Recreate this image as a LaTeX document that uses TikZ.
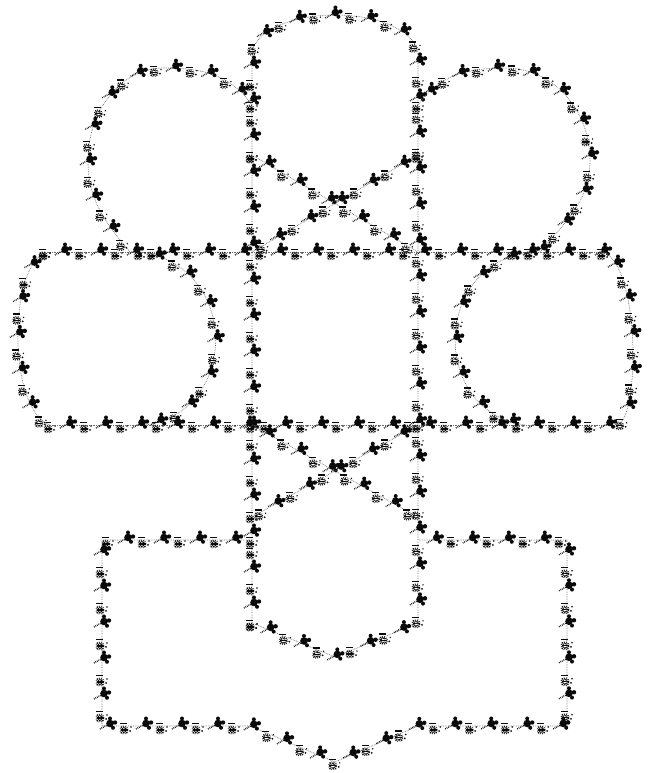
\documentclass[tikz,border=0pt]{standalone}
\usepackage{tikz}
\usetikzlibrary{decorations.markings}
\definecolor{knotink}{RGB}{10,10,10}
\tikzset{
  kring/.pic={\pgftransformresetnontranslations
    \draw[knotink, line width=2.8pt] (-2pt,-4pt) circle (3.2pt);
    \fill[knotink] (-5.5pt,-4.6pt) rectangle (1.5pt,-3.4pt);
    \fill[knotink] (-6pt,1.6pt) rectangle (1pt,3pt);
    \fill[knotink] (4pt,-5pt) circle (1pt);
    \fill[knotink] (5pt,-1pt) circle (0.8pt);},
  kclover/.pic={\pgftransformresetnontranslations
    \fill[knotink] (2pt,2.5pt) circle (3.8pt);
    \fill[knotink] (2pt,7.5pt) circle (2pt);
    \fill[knotink] (7pt,3.5pt) circle (2.2pt);
    \fill[knotink] (5pt,-1.8pt) circle (2pt);
    \draw[knotink, line width=1.5pt] (-8pt,-3pt) -- (2pt,2.5pt);},
  kstrand/.style={draw=knotink!60, densely dotted, line width=0.7pt,
    postaction={decorate, decoration={markings,
      mark=between positions 0 and 1 step 18pt with {%
        \ifodd\pgfkeysvalueof{/pgf/decoration/mark info/sequence number}
          \pic{kring};\else\pic{kclover};\fi}}}},
}
\begin{document}
\begin{tikzpicture}[x=1pt, y=1pt]
  \useasboundingbox (0,0) rectangle (648,773);
  \coordinate (vlt) at (252,718);
  \coordinate (vrt) at (418,718);
  \coordinate (vlb) at (252,150);
  \coordinate (vrb) at (418,150);
  \coordinate (vbot) at (335,116);
  \coordinate (hlt) at (45,521);
  \coordinate (hrt) at (603,521);
  \coordinate (hlb) at (50,348);
  \coordinate (hrb) at (618,348);
  \coordinate (xtl) at (252,618);
  \coordinate (xtr) at (418,618);
  \coordinate (clt) at (252,521);
  \coordinate (crt) at (418,521);
  \coordinate (clb) at (252,348);
  \coordinate (crb) at (418,348);
  \coordinate (xbl) at (252,256);
  \coordinate (xbr) at (418,256);
  \coordinate (sql) at (252,233);
  \coordinate (sqr) at (418,233);
  % top ear and the two long verticals
  \draw[kstrand] (vlb) -- (vlt) arc[start angle=180, end angle=0, x radius=83pt, y radius=40pt] -- (vrb);
  \draw[kstrand] (vlb) -- (vbot) -- (vrb);
  % long horizontals
  \draw[kstrand] (hlt) -- (hrt);
  \draw[kstrand] (hlb) -- (hrb);
  % crossings in the middle
  \draw[kstrand] (xtl) -- (crt);
  \draw[kstrand] (xtr) -- (clt);
  \draw[kstrand] (clb) -- (xbr);
  \draw[kstrand] (crb) -- (xbl);
  % upper ears
  \draw[kstrand] (252,668) to[out=125, in=0] (165,705) to[out=180, in=90] (88,613) to[out=270, in=130] (130,521);
  \draw[kstrand] (418,668) to[out=55, in=180] (505,705) to[out=0, in=90] (590,613) to[out=270, in=50] (540,521);
  % side ears
  \draw[kstrand] (hlt) .. controls (8,503) and (8,363) .. (hlb);
  \draw[kstrand] (140,521) .. controls (240,508) and (240,361) .. (145,348);
  \draw[kstrand] (hrt) .. controls (640,508) and (640,358) .. (hrb);
  \draw[kstrand] (530,521) .. controls (431,508) and (431,361) .. (525,348);
  % bottom frame
  \draw[kstrand] (sql) -- (102,233) -- (102,47) -- (250,47) -- (335,11) -- (418,47) -- (567,47) -- (567,233) -- (sqr);
\end{tikzpicture}
\end{document}
